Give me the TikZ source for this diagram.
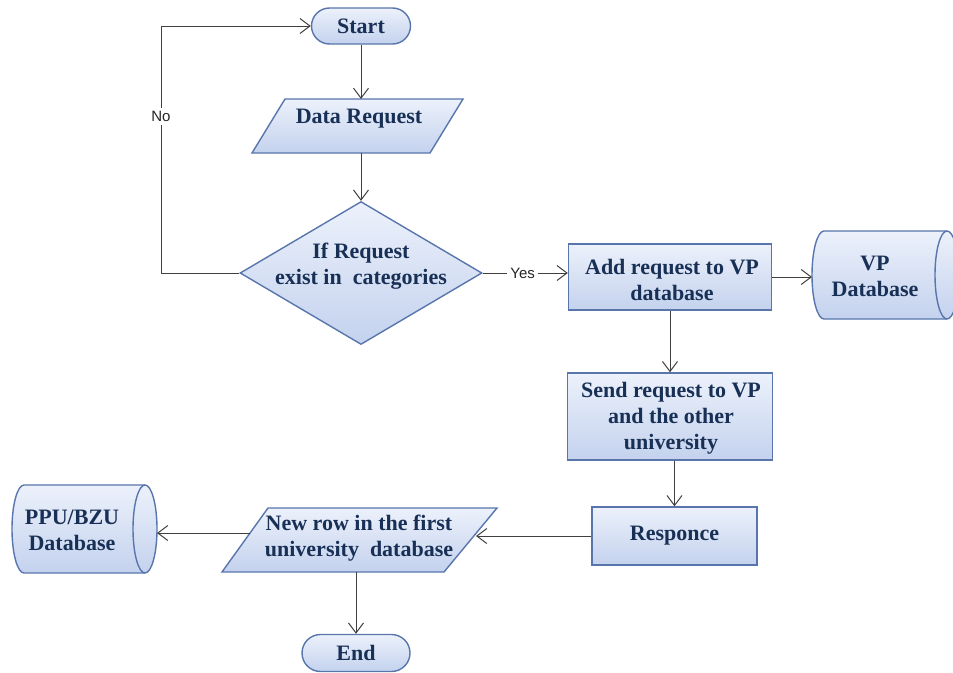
\documentclass[tikz,border=0pt]{standalone}
\usepackage{fontspec}
\setmainfont{Liberation Serif}
\newfontfamily\lblfont{Liberation Sans}
\usetikzlibrary{shapes.geometric,shapes.misc,arrows.meta}

\definecolor{bordc}{RGB}{88,118,172}
\definecolor{filltop}{RGB}{236,241,251}
\definecolor{fillbot}{RGB}{196,210,238}
\definecolor{txtc}{RGB}{24,48,86}
\definecolor{linec}{RGB}{64,64,64}

\tikzset{
  shp/.style={draw=bordc, line width=1.4pt, top color=filltop, bottom color=fillbot},
  bord/.style={draw=bordc, line width=1.4pt},
  txt/.style={font=\fontsize{22}{26}\selectfont\bfseries, text=txtc, align=center, inner sep=0pt},
  boxnode/.style={shp, txt, rectangle},
  termnode/.style={shp, txt, rounded rectangle},
  arr/.style={draw=linec, line width=1pt, -{Straight Barb[length=10pt,width=15pt,line width=1pt]}},
  lbl/.style={font=\lblfont\fontsize{15}{17}\selectfont, text=black!85, fill=white, inner sep=3pt}
}

\begin{document}
\begin{tikzpicture}[x=1pt,y=1pt]
\useasboundingbox (0,0) rectangle (953,-672);
\fill[white] (0,0) rectangle (953,-672);

% terminals
\node[termnode, minimum width=99pt, minimum height=36pt] (st) at (361,-26) {Start};
\node[termnode, minimum width=108pt, minimum height=37pt] (en) at (356,-653) {End};

% input: data request
\path[shp] (285,-99) -- (463,-99) -- (430,-153) -- (252,-153) -- cycle;
\node[txt] (dr) at (359,-119) {Data Request};
\coordinate (drtop) at (361,-99);
\coordinate (drbot) at (361,-153);

% decision
\node[shp, diamond, minimum width=242pt, minimum height=143pt, inner sep=0pt] (dec) at (361,-273) {};
\node[txt] (dect) at (361,-266) {If Request\\exist in~ categories};

% process boxes
\node[boxnode, minimum width=203pt, minimum height=66pt] (add) at (670,-277) {};
\node[txt] (addt) at (672,-280) {Add request to VP\\database};
\node[boxnode, minimum width=205pt, minimum height=87pt] (send) at (670,-416.5) {};
\node[txt] (sendt) at (671,-418) {Send request to VP\\and the other\\university};
\node[boxnode, minimum width=165pt, minimum height=58pt] (resp) at (674.5,-536) {Responce};

% output: new row
\path[shp] (268,-508) -- (497,-508) -- (444,-572) -- (222,-572) -- cycle;
\node[txt] (nr) at (359,-538) {New row in the first\\university~ database};
\coordinate (nrw) at (250,-533);
\coordinate (nre) at (476,-536);
\coordinate (nrs) at (356,-572);

% VP database store
\path[shp] (824,-231) -- (947,-231)
  arc[start angle=90, end angle=-90, x radius=12, y radius=44]
  -- (824,-319)
  arc[start angle=270, end angle=90, x radius=12, y radius=44] -- cycle;
\draw[bord] (947,-231) arc[start angle=90, end angle=270, x radius=12, y radius=44];
\node[txt] (vp) at (875,-276) {VP\\Database};
\coordinate (vpw) at (812,-277);

% PPU/BZU database store
\path[shp] (24,-485) -- (145,-485)
  arc[start angle=90, end angle=-90, x radius=12, y radius=44]
  -- (24,-573)
  arc[start angle=270, end angle=90, x radius=12, y radius=44] -- cycle;
\draw[bord] (145,-485) arc[start angle=90, end angle=270, x radius=12, y radius=44];
\node[txt] (ppu) at (72,-530) {PPU/BZU\\Database};
\coordinate (ppue) at (157,-533);

% connectors
\coordinate (loopx) at (161,0);
\draw[arr] (st.south) -- (drtop);
\draw[arr] (drbot) -- (dec.north);
\draw[arr] (dec.west) -- (dec.west -| loopx)
  -- node[lbl, pos=0.634] {No} (st.west -| loopx) -- (st.west);
\draw[arr] (dec.east) -- node[lbl, pos=0.47] {Yes} (dec.east -| add.west);
\draw[arr] (add.east) -- (vpw);
\draw[arr] (add.south) -- (send.north);
\draw[arr] (send.south -| resp.north) -- (resp.north);
\draw[arr] (resp.west) -- (nre);
\draw[arr] (nrw) -- (ppue);
\draw[arr] (nrs) -- (en.north);
\end{tikzpicture}
\end{document}
